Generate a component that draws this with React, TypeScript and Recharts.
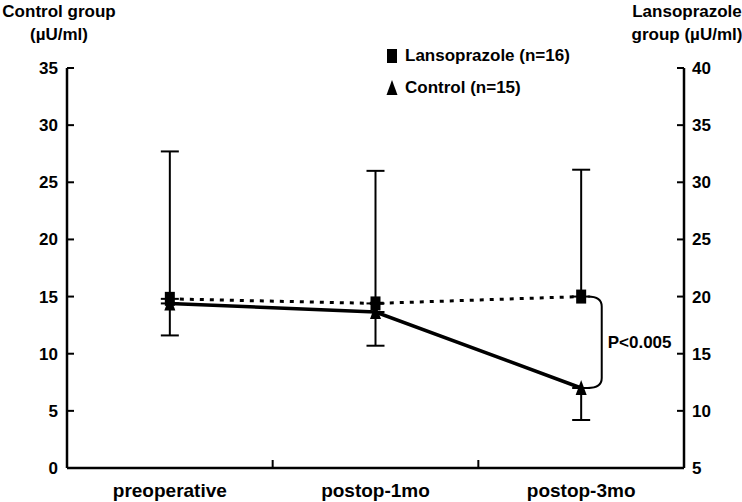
import React from 'react';
import { LineChart, Line, XAxis, YAxis, ErrorBar, Legend, ReferenceLine } from 'recharts';

// values
const categories = ['preoperative', 'postop-1mo', 'postop-3mo'];
const lansoprazole = [19.8, 19.4, 20.0]; // right axis
const lansoprazoleUp = [12.9, 11.6, 11.1];
const control = [14.4, 13.65, 7.0]; // left axis
const controlDown = [2.8, 2.95, 2.8];
const leftDomain = [0, 35];
const rightDomain = [5, 40];
const leftTicks = [0, 5, 10, 15, 20, 25, 30, 35];
const rightTicks = [5, 10, 15, 20, 25, 30, 35, 40];
const seriesNames = ['Lansoprazole (n=16)', 'Control (n=15)'];
const pLabel = 'P<0.005';

const data = categories.map((name, i) => ({
  name,
  x: i + 0.5,
  lans: lansoprazole[i],
  lansErr: [0, lansoprazoleUp[i]],
  ctrl: control[i],
  ctrlErr: [controlDown[i], 0],
}));

const xTicks = [0.5, 1, 1.5, 2, 2.5];
const font = '"Liberation Sans", Arial, sans-serif';

const Square = (p: any) => {
  if (p.cx == null) return <g key={p.key} />;
  return <rect key={p.key} x={p.cx - 5} y={p.cy - 7} width={10} height={14} fill="#000" />;
};

const Triangle = (p: any) => {
  if (p.cx == null) return <g key={p.key} />;
  return (
    <path
      key={p.key}
      d={`M${p.cx},${p.cy - 8} L${p.cx + 5.5},${p.cy + 7} L${p.cx - 5.5},${p.cy + 7} Z`}
      fill="#000"
    />
  );
};

const LeftTick = (p: any) => (
  <g>
    <line x1={p.x} x2={p.x + 7} y1={p.y} y2={p.y} stroke="#000" strokeWidth={2} />
    <text x={p.x - 9} y={p.y} dy={6} textAnchor="end" fontFamily={font} fontWeight="bold" fontSize={17} fill="#000">
      {p.payload.value}
    </text>
  </g>
);

const RightTick = (p: any) => (
  <g>
    <line x1={p.x} x2={p.x - 7} y1={p.y} y2={p.y} stroke="#000" strokeWidth={2} />
    <text x={p.x + 8} y={p.y} dy={6} textAnchor="start" fontFamily={font} fontWeight="bold" fontSize={17} fill="#000">
      {p.payload.value}
    </text>
  </g>
);

const BottomTick = (p: any) => {
  const v = p.payload.value;
  if (Number.isInteger(v)) {
    return <line x1={p.x} x2={p.x} y1={p.y} y2={p.y - 8} stroke="#000" strokeWidth={2} />;
  }
  return (
    <text x={p.x} y={p.y + 29} textAnchor="middle" fontFamily={font} fontWeight="bold" fontSize={19} fill="#000">
      {categories[Math.floor(v)]}
    </text>
  );
};

const Bracket = (p: any) => {
  const { x1, y1, y2 } = p;
  const d = `M${x1 - 14},${y1} Q${x1},${y1} ${x1},${y1 + 10} L${x1},${y2 - 10} Q${x1},${y2} ${x1 - 14},${y2}`;
  return (
    <g>
      <path d={d} fill="none" stroke="#000" strokeWidth={2} />
      <text x={x1 + 6} y={(y1 + y2) / 2} dy={6} fontFamily={font} fontWeight="bold" fontSize={17} fill="#000">
        {pLabel}
      </text>
    </g>
  );
};

const LegendContent = () => (
  <div style={{ fontFamily: font, fontWeight: 'bold', fontSize: 17, color: '#000', lineHeight: '32px' }}>
    <div style={{ display: 'flex', alignItems: 'center' }}>
      <svg width={20} height={16}>
        <rect x={2} y={1} width={10} height={14} fill="#000" />
      </svg>
      <span>{seriesNames[0]}</span>
    </div>
    <div style={{ display: 'flex', alignItems: 'center' }}>
      <svg width={20} height={16}>
        <path d="M7,0 L12.5,15 L1.5,15 Z" fill="#000" />
      </svg>
      <span>{seriesNames[1]}</span>
    </div>
  </div>
);

const titleStyle: React.CSSProperties = {
  position: 'absolute',
  fontFamily: font,
  fontWeight: 'bold',
  fontSize: 17,
  lineHeight: '23px',
  textAlign: 'center',
  color: '#000',
};

// bracket sits on the left axis scale; the right axis is shifted by the domain offset
const bracketTop = lansoprazole[2] - rightDomain[0] + leftDomain[0];
const bracketBottom = control[2];

export default function App() {
  return (
    <div style={{ position: 'absolute', left: 0, top: 0, width: 742, height: 502, background: '#fff' }}>
      <div style={{ ...titleStyle, left: 0, top: 0, width: 118 }}>
        Control group
        <br />
        (µU/ml)
      </div>
      <div style={{ ...titleStyle, left: 628, top: 0, width: 118 }}>
        Lansoprazole
        <br />
        group (µU/ml)
      </div>
      <LineChart width={742} height={502} data={data} margin={{ top: 68, right: 0, bottom: 0, left: 0 }}>
        <XAxis
          dataKey="x"
          type="number"
          domain={[0, 3]}
          ticks={xTicks}
          interval={0}
          height={34}
          tickLine={false}
          tickSize={0}
          tickMargin={0}
          axisLine={{ stroke: '#000', strokeWidth: 2.5 }}
          tick={BottomTick}
        />
        <YAxis
          yAxisId="left"
          orientation="left"
          domain={leftDomain}
          ticks={leftTicks}
          interval={0}
          width={67}
          tickLine={false}
          tickSize={0}
          tickMargin={0}
          axisLine={{ stroke: '#000', strokeWidth: 2.5 }}
          tick={LeftTick}
        />
        <YAxis
          yAxisId="right"
          orientation="right"
          domain={rightDomain}
          ticks={rightTicks}
          interval={0}
          width={58}
          tickLine={false}
          tickSize={0}
          tickMargin={0}
          axisLine={{ stroke: '#000', strokeWidth: 2.5 }}
          tick={RightTick}
        />
        <Legend
          layout="horizontal"
          verticalAlign="middle"
          align="center"
          content={LegendContent}
          wrapperStyle={{ left: 385, top: 40, width: 'auto' }}
        />
        <Line
          yAxisId="left"
          dataKey="ctrl"
          stroke="#000"
          strokeWidth={3.5}
          dot={Triangle}
          activeDot={false}
          isAnimationActive={false}
        >
          <ErrorBar dataKey="ctrlErr" direction="y" width={9} stroke="#000" strokeWidth={2} isAnimationActive={false} />
        </Line>
        <Line
          yAxisId="right"
          dataKey="lans"
          stroke="#000"
          strokeWidth={3}
          strokeDasharray="4 6"
          dot={Square}
          activeDot={false}
          isAnimationActive={false}
        >
          <ErrorBar dataKey="lansErr" direction="y" width={9} stroke="#000" strokeWidth={2} isAnimationActive={false} />
        </Line>
        <ReferenceLine
          yAxisId="left"
          segment={[
            { x: 2.6, y: bracketTop },
            { x: 2.6, y: bracketBottom },
          ]}
          shape={Bracket}
        />
      </LineChart>
    </div>
  );
}
